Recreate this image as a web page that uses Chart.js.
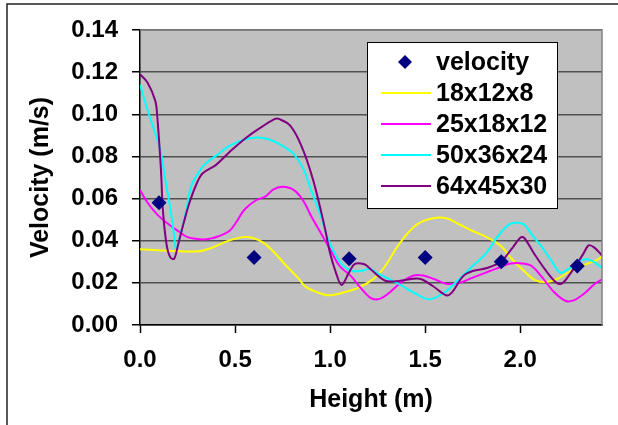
<!DOCTYPE html>
<html>
<head>
<meta charset="utf-8">
<script src="https://cdn.jsdelivr.net/npm/chart.js@4/dist/chart.umd.min.js"></script>
<style>
  html, body { margin: 0; padding: 0; background: #fff; }
  #wrap { width: 618px; height: 425px; }
</style>
</head>
<body>
<div id="wrap"><canvas id="velocityChart" width="618" height="425"></canvas></div>
<script>
// measured velocity
const velocityHeight = [0.1, 0.6, 1.1, 1.5, 1.9, 2.3];
const velocityValues = [0.058, 0.032, 0.0315, 0.032, 0.030, 0.028];

// 18x12x8
const mesh18Height = [0.00, 0.11, 0.21, 0.31, 0.38, 0.46, 0.54, 0.59, 0.65, 0.70, 0.77, 0.83, 0.87, 0.93, 0.99, 1.07, 1.15, 1.23, 1.29, 1.35, 1.41, 1.47, 1.56, 1.62, 1.68, 1.75, 1.83, 1.90, 1.95, 2.02, 2.08, 2.14, 2.19, 2.25, 2.32, 2.39, 2.43];
const mesh18Values = [0.036, 0.0354, 0.035, 0.035, 0.0367, 0.0398, 0.0417, 0.0414, 0.039, 0.035, 0.028, 0.0225, 0.0182, 0.0156, 0.0141, 0.0154, 0.0177, 0.022, 0.028, 0.0367, 0.0438, 0.0485, 0.0509, 0.0504, 0.0477, 0.0446, 0.0414, 0.0374, 0.0319, 0.0256, 0.0212, 0.0204, 0.0217, 0.0248, 0.028, 0.0303, 0.0324];

// 25x18x12
const mesh25Height = [0.00, 0.04, 0.09, 0.14, 0.20, 0.25, 0.33, 0.37, 0.41, 0.47, 0.51, 0.55, 0.61, 0.66, 0.70, 0.75, 0.81, 0.86, 0.90, 0.95, 1.00, 1.05, 1.11, 1.16, 1.21, 1.25, 1.30, 1.37, 1.44, 1.49, 1.55, 1.61, 1.68, 1.75, 1.84, 1.91, 1.95, 2.01, 2.06, 2.11, 2.18, 2.24, 2.28, 2.33, 2.39, 2.43];
const mesh25Values = [0.064, 0.058, 0.0525, 0.0485, 0.0446, 0.0417, 0.0406, 0.041, 0.042, 0.0446, 0.0493, 0.0548, 0.0592, 0.061, 0.0643, 0.0656, 0.064, 0.0588, 0.0517, 0.0438, 0.0359, 0.028, 0.0232, 0.0177, 0.013, 0.0122, 0.0145, 0.020, 0.0235, 0.0235, 0.0217, 0.0196, 0.020, 0.0225, 0.0256, 0.028, 0.0292, 0.0292, 0.028, 0.0232, 0.0154, 0.0114, 0.0117, 0.0145, 0.0193, 0.0217];

// 50x36x24
const mesh50Height = [0.00, 0.04, 0.08, 0.11, 0.13, 0.16, 0.18, 0.19, 0.21, 0.24, 0.27, 0.32, 0.35, 0.41, 0.47, 0.55, 0.62, 0.68, 0.75, 0.81, 0.86, 0.90, 0.95, 0.99, 1.03, 1.07, 1.12, 1.18, 1.21, 1.26, 1.35, 1.44, 1.52, 1.60, 1.67, 1.75, 1.82, 1.87, 1.93, 1.97, 2.02, 2.06, 2.11, 2.16, 2.21, 2.25, 2.32, 2.37, 2.43];
const mesh50Values = [0.114, 0.102, 0.091, 0.082, 0.0706, 0.055, 0.042, 0.036, 0.042, 0.053, 0.066, 0.074, 0.077, 0.081, 0.085, 0.088, 0.089, 0.088, 0.085, 0.081, 0.074, 0.064, 0.052, 0.0406, 0.033, 0.028, 0.0256, 0.026, 0.0267, 0.024, 0.020, 0.0154, 0.0122, 0.0154, 0.021, 0.028, 0.034, 0.0406, 0.047, 0.0485, 0.0477, 0.043, 0.0374, 0.031, 0.0248, 0.0264, 0.0308, 0.0308, 0.0272];

// 64x45x30
const mesh64Height = [0.00, 0.04, 0.08, 0.09, 0.11, 0.12, 0.14, 0.16, 0.18, 0.20, 0.23, 0.26, 0.30, 0.33, 0.40, 0.47, 0.56, 0.65, 0.71, 0.73, 0.79, 0.85, 0.91, 0.97, 1.00, 1.03, 1.06, 1.10, 1.13, 1.18, 1.21, 1.29, 1.37, 1.47, 1.54, 1.61, 1.64, 1.70, 1.75, 1.83, 1.90, 1.96, 2.00, 2.02, 2.07, 2.13, 2.19, 2.22, 2.26, 2.33, 2.36, 2.39, 2.43];
const mesh64Values = [0.119, 0.115, 0.1065, 0.100, 0.074, 0.055, 0.038, 0.032, 0.0315, 0.038, 0.0485, 0.058, 0.0675, 0.072, 0.076, 0.082, 0.089, 0.0946, 0.0978, 0.0978, 0.0946, 0.0848, 0.069, 0.047, 0.034, 0.025, 0.019, 0.025, 0.029, 0.0288, 0.0267, 0.021, 0.021, 0.022, 0.0185, 0.0141, 0.0154, 0.0232, 0.0256, 0.0272, 0.0303, 0.0367, 0.0414, 0.0414, 0.0343, 0.0264, 0.0201, 0.0198, 0.024, 0.0335, 0.0378, 0.0367, 0.033];

const toPoints = (xs, ys) => xs.map((x, i) => ({ x: x, y: ys[i] }));

const FONT = '"Liberation Sans", Arial, sans-serif';

// gray plot area, outer frame and the boxed legend
const framePlugin = {
    id: 'frame',
    beforeDraw(chart) {
        const { ctx, chartArea } = chart;
        ctx.save();
        ctx.fillStyle = '#c0c0c0';
        ctx.fillRect(chartArea.left, chartArea.top, chartArea.right - chartArea.left, chartArea.bottom - chartArea.top);
        ctx.strokeStyle = '#222';
        ctx.lineWidth = 1.5;
        ctx.beginPath();
        ctx.moveTo(7, 425);
        ctx.lineTo(7, 4);
        ctx.lineTo(618, 4);
        ctx.stroke();
        ctx.restore();
    },
    afterDatasetsDraw(chart) {
        const { ctx, chartArea } = chart;
        ctx.save();
        ctx.strokeStyle = '#808080';
        ctx.lineWidth = 1.5;
        ctx.beginPath();
        ctx.moveTo(chartArea.left, chartArea.top);
        ctx.lineTo(chartArea.right, chartArea.top);
        ctx.lineTo(chartArea.right, chartArea.bottom);
        ctx.stroke();
        ctx.restore();
    },
    afterDraw(chart) {
        const ctx = chart.ctx;
        ctx.save();
        ctx.fillStyle = '#fff';
        ctx.fillRect(367, 42, 191, 167);
        ctx.strokeStyle = '#000';
        ctx.lineWidth = 1;
        ctx.strokeRect(367.5, 42.5, 190, 166);
        ctx.font = 'bold 25px ' + FONT;
        ctx.textBaseline = 'middle';
        ctx.textAlign = 'left';
        chart.data.datasets.forEach((ds, i) => {
            const y = 62 + i * 31;
            if (ds.showLine) {
                ctx.strokeStyle = ds.borderColor;
                ctx.lineWidth = 2;
                ctx.beginPath();
                ctx.moveTo(381, y);
                ctx.lineTo(431, y);
                ctx.stroke();
            } else {
                const r = 7;
                ctx.fillStyle = ds.backgroundColor;
                ctx.beginPath();
                ctx.moveTo(405, y - r);
                ctx.lineTo(405 + r, y);
                ctx.lineTo(405, y + r);
                ctx.lineTo(405 - r, y);
                ctx.closePath();
                ctx.fill();
            }
            ctx.fillStyle = '#000';
            ctx.fillText(ds.label, 436, y + 1);
        });
        ctx.restore();
    }
};

const lineSet = (label, xs, ys, color, order) => ({
    label: label,
    data: toPoints(xs, ys),
    showLine: true,
    borderColor: color,
    backgroundColor: color,
    borderWidth: 2,
    pointRadius: 0,
    tension: 0.35,
    order: order
});

const ctx = document.getElementById('velocityChart').getContext('2d');
new Chart(ctx, {
    type: 'scatter',
    data: {
        datasets: [
            {
                label: 'velocity',
                data: toPoints(velocityHeight, velocityValues),
                showLine: false,
                pointStyle: 'rectRot',
                pointRadius: 7.5,
                backgroundColor: '#000080',
                borderColor: '#000080',
                borderWidth: 0,
                order: 0
            },
            lineSet('18x12x8', mesh18Height, mesh18Values, '#ffff00', 4),
            lineSet('25x18x12', mesh25Height, mesh25Values, '#ff00ff', 3),
            lineSet('50x36x24', mesh50Height, mesh50Values, '#00ffff', 2),
            lineSet('64x45x30', mesh64Height, mesh64Values, '#800080', 1)
        ]
    },
    options: {
        responsive: false,
        animation: false,
        events: [],
        layout: { padding: { left: 0, top: 30, right: 16, bottom: 0 } },
        plugins: {
            legend: { display: false },
            tooltip: { enabled: false }
        },
        scales: {
            x: {
                type: 'linear',
                min: 0,
                max: 2.43,
                afterFit: (scale) => { scale.height = 100; },
                grid: { drawOnChartArea: false, tickLength: 8, tickColor: '#000', tickWidth: 1.5 },
                border: { color: '#000', width: 1.5 },
                ticks: {
                    stepSize: 0.5,
                    includeBounds: false,
                    padding: 13,
                    color: '#000',
                    font: { family: FONT, size: 24, weight: 'bold' },
                    callback: (v) => v.toFixed(1)
                },
                title: {
                    display: true,
                    text: 'Height (m)',
                    color: '#000',
                    font: { family: FONT, size: 25, weight: 'bold' },
                    padding: { top: 0, bottom: 10 }
                }
            },
            y: {
                min: 0,
                max: 0.14,
                afterFit: (scale) => { scale.width = 140; },
                grid: { color: '#505050', lineWidth: 1.5, tickLength: 8, tickColor: '#000', tickWidth: 1.5 },
                border: { color: '#000', width: 1.5 },
                ticks: {
                    stepSize: 0.02,
                    padding: 14,
                    color: '#000',
                    font: { family: FONT, size: 24, weight: 'bold' },
                    callback: (v) => v.toFixed(2)
                },
                title: {
                    display: true,
                    text: 'Velocity (m/s)',
                    color: '#000',
                    font: { family: FONT, size: 25, weight: 'bold' },
                    padding: { top: 26, bottom: 0 }
                }
            }
        }
    },
    plugins: [framePlugin]
});
</script>
</body>
</html>
